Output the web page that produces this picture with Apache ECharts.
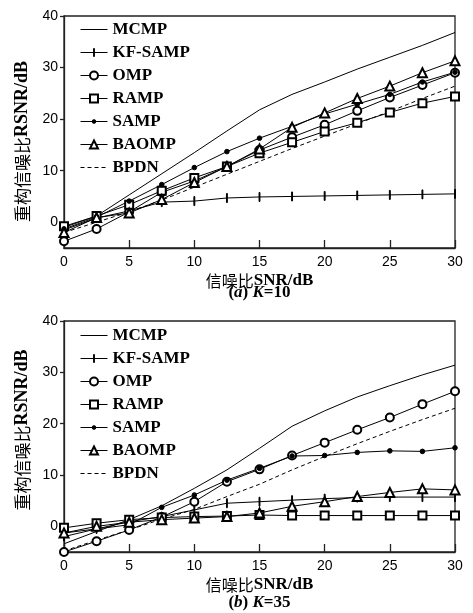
<!DOCTYPE html>
<html>
<head>
    <meta charset="utf-8">
    <title>重构信噪比</title>
    <script src="https://cdn.jsdelivr.net/npm/echarts@6/dist/echarts.min.js"></script>
    <style>
        html, body { margin: 0; padding: 0; background: #fff; }
        #main { width: 473px; height: 613px; }
    </style>
</head>
<body>
<div id="main"></div>
<script type="text/javascript">
    // 横轴 信噪比 SNR/dB
    var snr = [0, 2.5, 5, 7.5, 10, 12.5, 15, 17.5, 20, 22.5, 25, 27.5, 30];
    var names = ['MCMP', 'KF-SAMP', 'OMP', 'RAMP', 'SAMP', 'BAOMP', 'BPDN'];
    var yTicks = [0, 10, 20, 30, 40];

    // (a) K=10
    var mcmpA   = [-1.0, 1.2, 5.3, 9.4, 13.5, 17.7, 21.8, 24.8, 27.2, 29.7, 32.0, 34.3, 36.8];
    var kfsampA = [-1.5, 0.8, 2.2, 3.9, 4.1, 4.7, 4.9, 5.0, 5.1, 5.2, 5.3, 5.4, 5.5];
    var ompA    = [-3.7, -1.3, 2.0, 5.8, 8.0, 10.8, 14.0, 16.5, 18.9, 21.6, 24.2, 26.6, 29.0];
    var rampA   = [-0.8, 1.2, 3.4, 6.1, 8.6, 10.8, 13.4, 15.5, 17.6, 19.3, 21.3, 23.1, 24.4];
    var sampA   = [-1.3, 1.0, 4.1, 7.3, 10.6, 13.7, 16.3, 18.6, 21.0, 22.9, 24.8, 27.2, 29.1];
    var baompA  = [-2.0, 0.9, 1.8, 4.4, 7.7, 10.8, 14.2, 18.4, 21.2, 24.0, 26.4, 29.0, 31.3];
    var bpdnA   = [-2.0, 0.0, 2.0, 4.3, 6.8, 9.3, 11.8, 14.3, 16.7, 19.1, 21.5, 24.0, 26.4];

    // (b) K=35
    var mcmpB   = [-3.4, -1.0, 1.3, 4.0, 7.4, 11.0, 15.2, 19.5, 22.5, 25.2, 27.4, 29.5, 31.4];
    var kfsampB = [-2.0, -0.5, 0.9, 1.9, 3.2, 4.5, 4.8, 5.1, 5.4, 5.6, 5.7, 5.7, 5.7];
    var ompB    = [-5.0, -2.9, -0.7, 1.8, 4.8, 8.7, 11.1, 13.8, 16.3, 18.8, 21.2, 23.8, 26.3];
    var rampB   = [-0.3, 0.6, 1.3, 1.7, 1.9, 2.0, 2.2, 2.1, 2.1, 2.1, 2.1, 2.1, 2.1];
    var sampB   = [-1.3, -0.5, 0.3, 3.7, 6.1, 9.0, 11.3, 13.7, 13.8, 14.4, 14.7, 14.6, 15.3];
    var baompB  = [-1.3, 0.0, 0.8, 1.3, 1.6, 1.9, 2.6, 3.9, 4.8, 5.8, 6.6, 7.3, 7.1];
    var bpdnB   = [-4.8, -2.7, -0.7, 1.4, 3.3, 5.8, 8.2, 11.0, 13.6, 16.1, 18.5, 20.8, 23.0];

    var valuesA = [mcmpA, kfsampA, ompA, rampA, sampA, baompA, bpdnA];
    var valuesB = [mcmpB, kfsampB, ompB, rampB, sampB, baompB, bpdnB];

    // 标记样式 (空路径用于无标记的曲线, 图例里也不画圆点)
    var blankPath = 'path://M0,0M10,10';
    var plusPath = 'path://M0,0M10,10M4.5,0h1v10h-1z';
    var dotPath = 'path://M0,0M10,10M2.7,5a2.3,2.3 0 1,0 4.6,0a2.3,2.3 0 1,0 -4.6,0z';
    var styles = [
        {symbol: blankPath, size: 8, show: false, dash: 'solid'},
        {symbol: plusPath, size: 9, show: true, dash: 'solid'},
        {symbol: 'emptyCircle', size: 8, show: true, dash: 'solid'},
        {symbol: 'emptyRect', size: 8, show: true, dash: 'solid'},
        {symbol: dotPath, size: 10, show: true, dash: 'solid'},
        {symbol: 'emptyTriangle', size: 9, show: true, dash: 'solid'},
        {symbol: blankPath, size: 8, show: false, dash: [4, 3]}
    ];

    var serif = 'Liberation Serif, Times New Roman, serif';
    var cjk = 'Noto Sans CJK SC';
    var sans = 'Liberation Sans, Arial, sans-serif';

    function buildSeries(values, idx) {
        return values.map(function (vals, i) {
            var st = styles[i];
            return {
                name: names[i],
                type: 'line',
                xAxisIndex: idx,
                yAxisIndex: idx,
                data: snr.map(function (x, j) { return [x, vals[j]]; }),
                symbol: st.symbol,
                symbolSize: st.size,
                showSymbol: st.show,
                animation: false,
                lineStyle: {color: '#000', width: 1, type: st.dash},
                itemStyle: {color: '#000', borderColor: '#000', borderWidth: 1},
                emphasis: {disabled: true}
            };
        });
    }

    function xAxisOf(idx) {
        return {
            gridIndex: idx,
            type: 'value',
            min: 0,
            max: 30,
            interval: 5,
            name: '{c|信噪比}{l|SNR/dB}',
            nameLocation: 'middle',
            nameGap: 24,
            nameTextStyle: {
                rich: {
                    c: {fontFamily: cjk, fontSize: 16, color: '#000'},
                    l: {fontFamily: serif, fontSize: 17, fontWeight: 'bold', color: '#000'}
                }
            },
            axisLine: {onZero: false, lineStyle: {color: '#222', width: 1.3}},
            axisTick: {inside: true, length: 8, lineStyle: {color: '#222', width: 1.3}},
            axisLabel: {fontFamily: sans, fontSize: 14, color: '#000', margin: 7},
            splitLine: {show: false}
        };
    }

    function yAxisOf(idx, pad) {
        return {
            gridIndex: idx,
            type: 'value',
            min: -5,
            max: 40,
            name: '{c|重构信噪比}{l|RSNR/dB}',
            nameLocation: 'middle',
            nameGap: 28,
            nameTextStyle: {
                padding: pad,
                rich: {
                    c: {fontFamily: cjk, fontSize: 17, color: '#000'},
                    l: {fontFamily: serif, fontSize: 18, fontWeight: 'bold', color: '#000'}
                }
            },
            axisLine: {onZero: false, lineStyle: {color: '#222', width: 1.3}},
            axisTick: {length: 4, customValues: yTicks, lineStyle: {color: '#222', width: 1.3}},
            axisLabel: {fontFamily: sans, fontSize: 14, color: '#000', margin: 6, customValues: yTicks},
            splitLine: {show: false}
        };
    }

    function legendOf(top) {
        return {
            orient: 'vertical',
            left: 75,
            top: top,
            data: names,
            itemWidth: 27,
            itemHeight: 10,
            itemGap: 6,
            selectedMode: false,
            itemStyle: {borderWidth: 1},
            lineStyle: {width: 1},
            textStyle: {fontFamily: serif, fontSize: 17, fontWeight: 'bold', color: '#000', lineHeight: 16}
        };
    }

    function caption(y, letter, k) {
        return {
            type: 'text',
            x: 259.5,
            y: y,
            style: {
                text: '{n|(}{i|' + letter + '}{n|) }{i|K}{n|=' + k + '}',
                align: 'center',
                verticalAlign: 'middle',
                rich: {
                    n: {fontFamily: serif, fontSize: 17, fontWeight: 'bold', fill: '#000'},
                    i: {fontFamily: serif, fontSize: 17, fontWeight: 'bold', fontStyle: 'italic', fill: '#000'}
                }
            }
        };
    }

    var myChart = echarts.init(document.getElementById('main'));
    var option = {
        backgroundColor: '#fff',
        animation: false,
        grid: [
            {left: 64, right: 18, top: 16, height: 232, show: true, borderColor: '#222', borderWidth: 1.3, backgroundColor: 'transparent'},
            {left: 64, right: 18, top: 321, height: 231, show: true, borderColor: '#222', borderWidth: 1.3, backgroundColor: 'transparent'}
        ],
        legend: [legendOf(16), legendOf(322)],
        xAxis: [xAxisOf(0), xAxisOf(1)],
        yAxis: [yAxisOf(0, [0, 19, 0, 0]), yAxisOf(1, [0, 0, 0, 13])],
        graphic: [caption(293, 'a', 10), caption(603, 'b', 35)],
        series: buildSeries(valuesA, 0).concat(buildSeries(valuesB, 1))
    };
    myChart.setOption(option);
</script>
</body>
</html>
